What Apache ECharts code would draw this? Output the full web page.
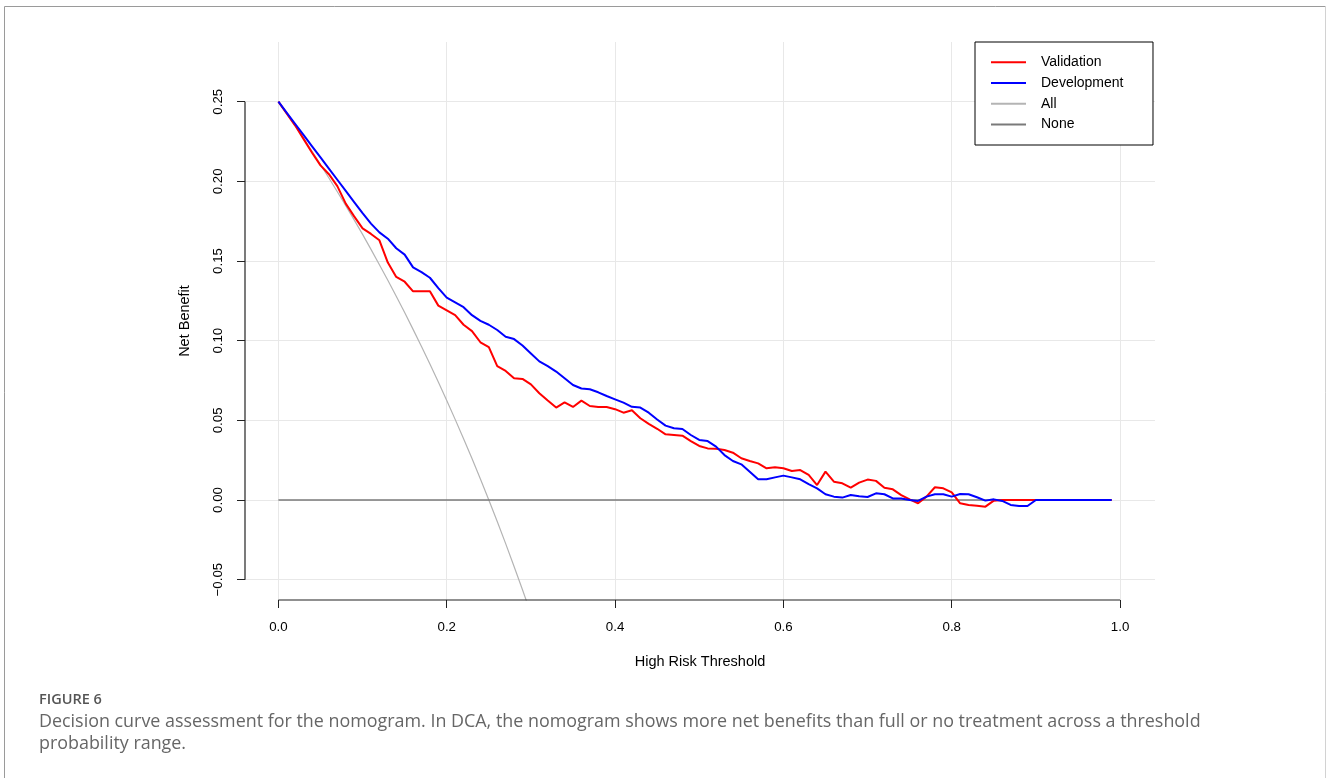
<!DOCTYPE html>
<html>
<head>
<meta charset="utf-8">
<script src="https://cdn.jsdelivr.net/npm/echarts/dist/echarts.min.js"></script>
<style>
  html, body { margin: 0; padding: 0; background: #ffffff; }
  #chart { width: 1328px; height: 778px; }
</style>
</head>
<body>
<div id="chart"></div>
<script>
// ---------- data ----------
const thresholds = [
  0.00,0.01,0.02,0.03,0.04,0.05,0.06,0.07,0.08,0.09,
  0.10,0.11,0.12,0.13,0.14,0.15,0.16,0.17,0.18,0.19,
  0.20,0.21,0.22,0.23,0.24,0.25,0.26,0.27,0.28,0.29,
  0.30,0.31,0.32,0.33,0.34,0.35,0.36,0.37,0.38,0.39,
  0.40,0.41,0.42,0.43,0.44,0.45,0.46,0.47,0.48,0.49,
  0.50,0.51,0.52,0.53,0.54,0.55,0.56,0.57,0.58,0.59,
  0.60,0.61,0.62,0.63,0.64,0.65,0.66,0.67,0.68,0.69,
  0.70,0.71,0.72,0.73,0.74,0.75,0.76,0.77,0.78,0.79,
  0.80,0.81,0.82,0.83,0.84,0.85,0.86,0.87,0.88,0.89,
  0.90,0.91,0.92,0.93,0.94,0.95,0.96,0.97,0.98,0.99
];

const validationNB = [
  0.250,0.2425,0.235,0.2265,0.218,0.210,0.2045,0.197,0.186,0.178,
  0.1705,0.167,0.163,0.149,0.140,0.137,0.131,0.131,0.131,0.122,
  0.119,0.116,0.110,0.106,0.099,0.096,0.084,0.081,0.0764,0.076,
  0.0726,0.067,0.0624,0.058,0.0613,0.0584,0.0624,0.059,0.0584,0.0584,
  0.057,0.0548,0.0563,0.0513,0.0478,0.0447,0.0412,0.0408,0.0404,0.037,
  0.0339,0.0324,0.0322,0.0314,0.0297,0.0262,0.0245,0.023,0.0199,0.0205,
  0.0199,0.0182,0.0188,0.0157,0.0094,0.0178,0.0115,0.0105,0.0077,0.0109,
  0.0128,0.012,0.0077,0.0067,0.0031,0.0004,-0.0021,0.0021,0.008,0.0073,
  0.0048,-0.0021,-0.0031,-0.0036,-0.0042,-0.0004,0,0,0,0,
  0,0,0,0,0,0,0,0,0,0
];

const developmentNB = [
  0.250,0.243,0.236,0.229,0.222,0.215,0.208,0.201,0.194,0.187,
  0.180,0.1735,0.168,0.164,0.158,0.154,0.146,0.143,0.1395,0.133,
  0.127,0.124,0.121,0.116,0.1124,0.110,0.1067,0.1025,0.101,0.097,
  0.092,0.087,0.084,0.0806,0.0764,0.0722,0.070,0.0695,0.0676,0.0653,
  0.0632,0.0611,0.0585,0.058,0.0548,0.0505,0.0467,0.045,0.0446,0.0408,
  0.0377,0.037,0.0335,0.0282,0.0245,0.0224,0.0178,0.013,0.013,0.0142,
  0.0153,0.0142,0.013,0.010,0.0073,0.0036,0.0021,0.0015,0.0031,0.0023,
  0.0019,0.0042,0.0036,0.001,0.001,0,-0.0006,0.0021,0.0036,0.0036,
  0.0021,0.0038,0.0036,0.0017,-0.0004,0.0004,-0.0006,-0.0031,-0.0038,-0.0038,
  0,0,0,0,0,0,0,0,0,0
];

// "All" (treat everyone) curve, read at the first thresholds; clipped by the plot
const allNB = [
  0.25,0.2424,0.2347,0.2268,0.2188,0.2105,0.2021,0.1935,0.1848,0.1758,
  0.1667,0.1573,0.1477,0.1379,0.1279,0.1177,0.1071,0.0964,0.0854,0.0741,
  0.0625,0.0506,0.0385,0.0260,0.0132,0.0,-0.0135,-0.0274,-0.0417,-0.0563,
  -0.0714,-0.0870
];

// "None" (treat no one)
const noneX = [0.00, 0.99];
const noneNB = [0, 0];

const seriesNames = ['Validation', 'Development', 'All', 'None'];

const xTicks = [0.0, 0.2, 0.4, 0.6, 0.8, 1.0];
const xTickLabels = ['0.0', '0.2', '0.4', '0.6', '0.8', '1.0'];
const yTicks = [-0.05, 0.00, 0.05, 0.10, 0.15, 0.20, 0.25];
const yTickLabels = ['\u22120.05', '0.00', '0.05', '0.10', '0.15', '0.20', '0.25'];

const xTitle = 'High Risk Threshold';
const yTitle = 'Net Benefit';
const figLabel = 'FIGURE 6';
const captionLines = [
  'Decision curve assessment for the nomogram. In DCA, the nomogram shows more net benefits than full or no treatment across a threshold',
  'probability range.'
];

// ---------- axis ranges (plot region extends past the data like base R) ----------
const X_MIN = -0.0397, X_MAX = 1.0415;
const Y_MIN = -0.06277, Y_MAX = 0.28747;

function pairs(xs, ys) { return ys.map((v, i) => [xs[i], v]); }
function findLabel(ticks, labels, v) {
  let best = 0, d = Infinity;
  ticks.forEach((t, i) => { const dd = Math.abs(t - v); if (dd < d) { d = dd; best = i; } });
  return labels[best];
}

const FONT = '"Liberation Sans", Arial, Helvetica, sans-serif';
const CAPFONT = '"Open Sans", "Noto Sans", sans-serif';
const chart = echarts.init(document.getElementById('chart'), null, { renderer: 'canvas' });

const option = {
  backgroundColor: '#ffffff',
  animation: false,
  textStyle: { fontFamily: FONT },
  grid: { left: 245, right: 173, top: 42, bottom: 178, containLabel: false },
  legend: {
    data: seriesNames,
    orient: 'vertical',
    left: 975,
    top: 42,
    padding: [13.3, 29.5, 13.6, 15],
    itemWidth: 35,
    itemHeight: 14,
    itemGap: 6.7,
    backgroundColor: '#ffffff',
    borderColor: '#000000',
    borderWidth: 1,
    borderRadius: 0,
    itemStyle: { opacity: 0 },
    textStyle: { fontFamily: FONT, fontSize: 14, color: '#000000', padding: [0, 0, 0, 10] },
    selectedMode: false,
    z: 10
  },
  xAxis: {
    type: 'value',
    min: X_MIN,
    max: X_MAX,
    name: xTitle,
    nameLocation: 'middle',
    nameGap: 54,
    nameTextStyle: { fontFamily: FONT, fontSize: 14.5, color: '#000000' },
    axisLine: { show: false, onZero: false },
    axisTick: { show: true, customValues: xTicks, length: 8, lineStyle: { color: '#222222', width: 1 } },
    axisLabel: {
      customValues: xTicks,
      margin: 21,
      fontFamily: FONT,
      fontSize: 13.3,
      color: '#000000',
      formatter: v => findLabel(xTicks, xTickLabels, v)
    },
    splitLine: { show: true, lineStyle: { color: '#e8e8e8', width: 1 } }
  },
  yAxis: {
    type: 'value',
    min: Y_MIN,
    max: Y_MAX,
    name: yTitle,
    nameLocation: 'middle',
    nameGap: 53,
    nameTextStyle: { fontFamily: FONT, fontSize: 14.5, color: '#000000' },
    axisLine: { show: false, onZero: false },
    axisTick: { show: true, customValues: yTicks, length: 8, lineStyle: { color: '#222222', width: 1 } },
    axisLabel: {
      customValues: yTicks,
      rotate: 90,
      margin: 20,
      fontFamily: FONT,
      fontSize: 13.3,
      color: '#000000',
      formatter: v => findLabel(yTicks, yTickLabels, v)
    },
    splitLine: { show: true, lineStyle: { color: '#e8e8e8', width: 1 } }
  },
  series: [
    {
      name: 'All', type: 'line', data: pairs(thresholds, allNB),
      symbol: 'none', showSymbol: false, clip: true,
      lineStyle: { color: '#b4b4b4', width: 1.2 }, itemStyle: { color: '#b4b4b4' }, z: 2
    },
    {
      name: 'None', type: 'line', data: pairs(noneX, noneNB),
      symbol: 'none', showSymbol: false,
      lineStyle: { color: '#7a7a7a', width: 1.3 }, itemStyle: { color: '#7a7a7a' }, z: 2
    },
    {
      name: 'Validation', type: 'line', data: pairs(thresholds, validationNB),
      symbol: 'none', showSymbol: false,
      lineStyle: { color: '#ff0000', width: 2 }, itemStyle: { color: '#ff0000' }, z: 3
    },
    {
      name: 'Development', type: 'line', data: pairs(thresholds, developmentNB),
      symbol: 'none', showSymbol: false,
      lineStyle: { color: '#0000ff', width: 2 }, itemStyle: { color: '#0000ff' }, z: 4
    },
    // axis lines spanning only the tick range, as in base R
    {
      name: 'xAxisLine', type: 'line', data: [[xTicks[0], Y_MIN], [xTicks[xTicks.length - 1], Y_MIN]],
      symbol: 'none', clip: false, silent: true,
      lineStyle: { color: '#222222', width: 1.2 }, z: 5
    },
    {
      name: 'yAxisLine', type: 'line', data: [[X_MIN, yTicks[0]], [X_MIN, yTicks[yTicks.length - 1]]],
      symbol: 'none', clip: false, silent: true,
      lineStyle: { color: '#222222', width: 1.2 }, z: 5
    }
  ],
  graphic: [
    // figure frame (top + left darker, right lighter; open at bottom)
    { type: 'polyline', silent: true, z: 1,
      shape: { points: [[4.5, 800], [4.5, 6.5], [1325.5, 6.5]] },
      style: { stroke: '#9a9a9a', lineWidth: 1, fill: null } },
    { type: 'line', silent: true, z: 1,
      shape: { x1: 1325.5, y1: 6.5, x2: 1325.5, y2: 800 },
      style: { stroke: '#d2d2d2', lineWidth: 1 } },
    { type: 'text', silent: true, z: 1, x: 39, y: 699.5,
      style: { text: figLabel, font: '600 14.5px ' + CAPFONT, fill: '#555555', verticalAlign: 'middle' } },
    { type: 'text', silent: true, z: 1, x: 39, y: 721.5,
      style: { text: captionLines[0], font: '17.9px ' + CAPFONT, fill: '#666666', verticalAlign: 'middle' } },
    { type: 'text', silent: true, z: 1, x: 39, y: 743.5,
      style: { text: captionLines[1], font: '17.9px ' + CAPFONT, fill: '#666666', verticalAlign: 'middle' } }
  ]
};

chart.setOption(option);
</script>
</body>
</html>
